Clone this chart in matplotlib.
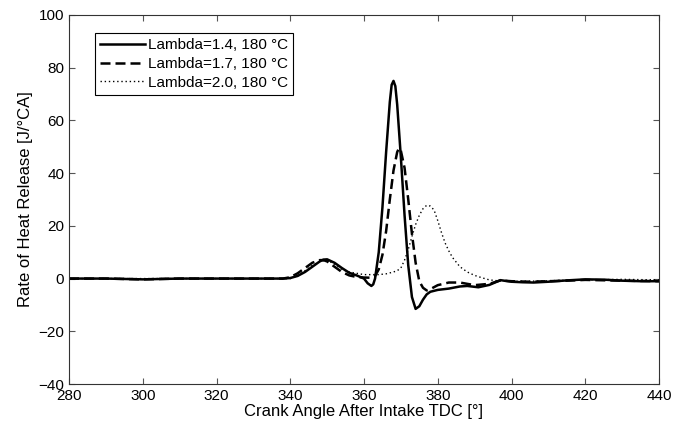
import matplotlib
matplotlib.use('Agg')
import matplotlib.pyplot as plt

plt.rcParams['font.family'] = ['Liberation Sans', 'DejaVu Sans']

# Lambda = 1.4
ca_14 = [280, 290, 300, 310, 320, 330, 338, 340, 342, 344, 346, 348, 349, 350, 352, 354,
         356, 358, 360, 361, 362, 362.5, 363, 364, 365, 366, 367, 367.5, 368, 368.5, 369, 370,
         371, 372, 373, 374, 375, 376, 377, 378, 380, 383, 386, 388, 391, 394, 397, 400,
         403, 406, 410, 415, 420, 425, 430, 435, 440]
rohr_14 = [0, 0, -0.3, 0, 0, 0, 0, 0.2, 1, 2.5, 4.5, 6.5, 7.2, 7.3, 6, 4,
           2.2, 1.2, 0, -1.8, -2.8, -2.2, 0, 10, 27, 48, 67, 73.5, 75, 73, 66, 46,
           24, 5, -7, -11.5, -10.5, -8, -6, -5, -4.3, -3.8, -3, -2.8, -3.3, -2.4, -0.6, -1.2,
           -1.4, -1.5, -1.2, -0.7, -0.3, -0.4, -0.8, -1, -1]

# Lambda = 1.7
ca_17 = [280, 290, 300, 310, 320, 330, 338, 340, 342, 344, 346, 348, 349, 350, 352, 354,
         356, 358, 360, 362, 363, 364, 365, 366, 367, 368, 369, 369.5, 370, 371, 372, 373,
         374, 375, 376, 377, 378, 380, 383, 386, 390, 394, 397, 400, 405, 410, 415, 420,
         430, 440]
rohr_17 = [0, 0, -0.3, 0, 0, 0, 0, 0.5, 2, 4, 6, 7, 7, 6.5, 4.5, 2.5,
           1.2, 0.6, 0.4, 0.3, 1, 3.5, 9, 18, 30, 41, 48, 49.5, 48.5, 42, 30, 17,
           6, -1, -3.5, -4.5, -4, -2.5, -1.5, -1.5, -2.5, -2, -0.7, -1, -1.2, -1, -0.8, -0.5,
           -0.8, -1]

# Lambda = 2.0
ca_20 = [280, 290, 300, 310, 320, 330, 340, 342, 344, 346, 348, 350, 352, 354, 356, 358,
         360, 362, 364, 366, 368, 369, 370, 371, 372, 373, 374, 375, 376, 377, 378, 379,
         380, 381, 382, 383, 384, 386, 388, 390, 392, 394, 396, 400, 405, 410, 420, 430,
         440]
rohr_20 = [0, 0, 0, 0, 0, 0, 0, 1, 3, 5, 6.5, 7, 5.5, 3.5, 2.5, 2,
           1.5, 1.5, 1.5, 1.8, 2.5, 3, 4, 7, 11, 16, 20.5, 24, 26.5, 27.8, 27.5, 26,
           22, 17.5, 13.5, 10.5, 8, 4.5, 2.5, 1.2, 0.3, -0.5, -0.8, -1, -1, -0.8, -0.5, -0.3,
           -0.5]

labels = ['Lambda=1.4, 180 °C', 'Lambda=1.7, 180 °C', 'Lambda=2.0, 180 °C']

fig = plt.figure(figsize=(6.88, 4.3), dpi=100)
ax = fig.add_axes([69 / 688, 1 - 384 / 430, 590 / 688, 369 / 430])

ax.plot(ca_14, rohr_14, color='black', lw=1.8, ls='-', label=labels[0])
ax.plot(ca_17, rohr_17, color='black', lw=1.8, ls=(0, (4, 2)), label=labels[1])
ax.plot(ca_20, rohr_20, color='black', lw=1.0, ls=(0, (1, 2)), label=labels[2])

ax.set_xlim(280, 440)
ax.set_ylim(-40, 100)
ax.set_xticks(range(280, 441, 20))
ax.set_yticks(range(-40, 101, 20))
ax.tick_params(direction='in', top=True, right=True, length=4, labelsize=11, color='#555555')
for s in ax.spines.values():
    s.set_color('#333333')

ax.set_xlabel('Crank Angle After Intake TDC [°]', fontsize=12, labelpad=1)
ax.set_ylabel('Rate of Heat Release [J/°CA]', fontsize=12, labelpad=4)

leg = ax.legend(loc='upper left', bbox_to_anchor=(0.044, 0.951), borderaxespad=0, fontsize=11,
                fancybox=False, framealpha=1, edgecolor='black', handlelength=2.9,
                handletextpad=0.2, borderpad=0.35, labelspacing=0.3)
leg.get_frame().set_linewidth(0.8)

fig.savefig('out.png', dpi=100)
